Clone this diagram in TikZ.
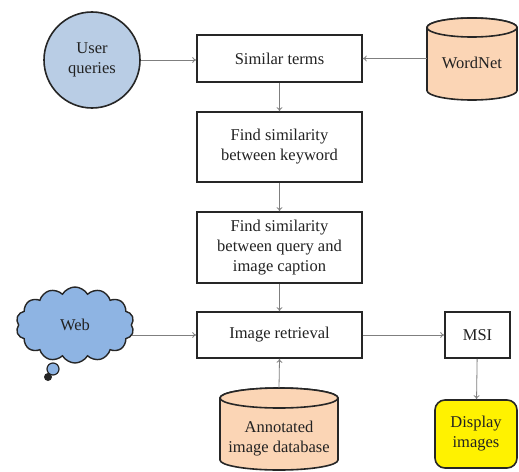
\documentclass[tikz,border=0pt]{standalone}
\usepackage{fontspec}
\setmainfont{Liberation Serif}
\usetikzlibrary{shapes.symbols,arrows.meta}
\definecolor{qblue}{HTML}{B9CDE5}
\definecolor{cloudblue}{HTML}{8EB4E3}
\definecolor{peach}{HTML}{FBD5B5}
\definecolor{edge}{HTML}{262626}
\definecolor{flow}{HTML}{7F7F7F}
\definecolor{ink}{HTML}{222222}
\begin{document}
\begin{tikzpicture}[x=1pt,y=-1pt,
  every node/.style={font=\fontsize{16.5}{20}\selectfont, text=ink, align=center},
  stepbox/.style={draw=edge, line width=1.6pt, fill=white, minimum width=165pt, inner sep=0pt},
  flowarrow/.style={draw=flow, line width=0.8pt, -{To[length=4pt,width=6pt]}},
  cylfill/.style={fill=peach, draw=edge, line width=1.6pt}]
\useasboundingbox (0,0) rectangle (519,471);
\fill[white] (0,0) rectangle (519,471);

% processing steps
\node[stepbox, minimum height=47pt] (sim) at (279.5,58.5) {Similar terms};
\node[stepbox, minimum height=70pt] (kw) at (279.5,147) {Find similarity\\between keyword};
\node[stepbox, minimum height=71pt] (cap) at (279.5,247.5) {Find similarity\\between query and\\image caption};
\node[stepbox, minimum height=46pt] (ret) at (279.5,335) {Image retrieval};
\node[stepbox, minimum width=65pt, minimum height=46pt] (msi) at (477.5,335) {MSI};
\node[draw=edge, line width=1.6pt, fill=yellow, rounded corners=10pt,
      minimum width=82pt, minimum height=68pt, inner sep=0pt] (disp) at (476,434) {Display\\images};

% sources
\node[circle, draw=edge, line width=1.6pt, fill=qblue, minimum size=96pt, inner sep=0pt] (user) at (92,60) {User\\queries};

\node[cloud, cloud puffs=14, cloud puff arc=120, aspect=1.5, draw=edge, line width=1.4pt,
      fill=cloudblue, minimum width=118pt, minimum height=76pt, inner sep=0pt] (web) at (75,325) {Web};
\filldraw[fill=cloudblue, draw=edge, line width=1.2pt] (53,369) circle (6);
\fill[edge] (48,377) circle (4);

% WordNet database
\path[cylfill] (427,27.5) -- (427,90.5) arc[start angle=180,end angle=0,x radius=45,y radius=9.5]
  -- (517,27.5) arc[start angle=0,end angle=-180,x radius=45,y radius=9.5] -- cycle;
\path[cylfill] (472,27.5) ellipse[x radius=45,y radius=9.5];
\node[minimum width=90pt, minimum height=90pt, inner sep=0pt] (wn) at (472,63) {WordNet};

% annotated image database
\path[cylfill] (220,398) -- (220,460) arc[start angle=180,end angle=0,x radius=59,y radius=10]
  -- (338,398) arc[start angle=0,end angle=-180,x radius=59,y radius=10] -- cycle;
\path[cylfill] (279,398) ellipse[x radius=59,y radius=10];
\node[minimum width=118pt, minimum height=102pt, inner sep=0pt] (db) at (279,439) {Annotated\\image database};

% connectors
\draw[flowarrow] (user.east) -- (sim.west |- user.east);
\draw[flowarrow] (wn.west |- sim.east) -- (sim.east);
\draw[flowarrow] (sim) -- (kw);
\draw[flowarrow] (kw) -- (cap);
\draw[flowarrow] (cap) -- (ret);
\draw[flowarrow] (ret.west -| web.east) -- (ret.west);
\draw[flowarrow] (db.north) -- (ret.south);
\draw[flowarrow] (ret) -- (msi);
\draw[flowarrow] (msi) -- (disp);
\end{tikzpicture}
\end{document}
